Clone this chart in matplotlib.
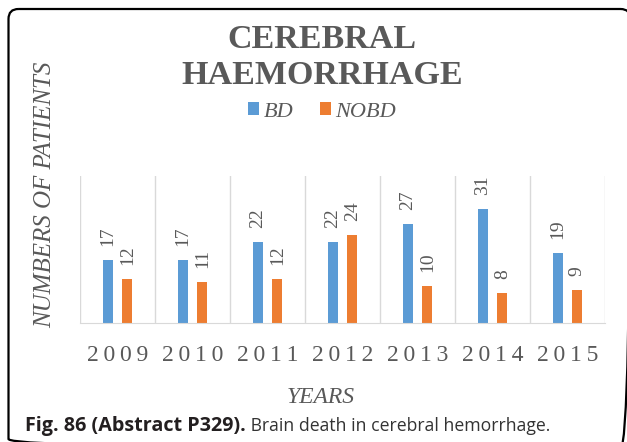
import numpy as np
import matplotlib.pyplot as plt
from matplotlib.patches import FancyBboxPatch

# Cerebral haemorrhage patients per year, brain death (BD) vs no brain death (NOBD)
years = ['2009', '2010', '2011', '2012', '2013', '2014', '2015']
bd = [17, 17, 22, 22, 27, 31, 19]
nobd = [12, 11, 12, 24, 10, 8, 9]

W, H = 627, 442
fig = plt.figure(figsize=(W / 100, H / 100), dpi=100)
fig.set_facecolor('white')

serif = 'Liberation Serif'
grey = '#595959'
blue = '#5B9BD5'
orange = '#ED7D31'

# pixel-unit layer for the frame, titles and caption
bg = fig.add_axes([0, 0, 1, 1])
bg.set_xlim(0, W)
bg.set_ylim(H, 0)
bg.axis('off')
bg.add_patch(FancyBboxPatch((8.5, 9), 622, 440,
                            boxstyle='round,pad=0,rounding_size=10',
                            fc='none', ec='black', lw=1.6))

# bar chart
ax = fig.add_axes([80 / W, 1 - 322.7 / H, 525 / W, 146.7 / H])
ax.set_facecolor('none')
x = np.arange(len(years))
w = 0.135
off = 0.13
b1 = ax.bar(x - off, bd, w, color=blue, label='BD', zorder=2)
b2 = ax.bar(x + off, nobd, w, color=orange, label='NOBD', zorder=2)
ax.set_xlim(-0.5, len(years) - 0.5)
ax.set_ylim(0, 40)

for edge in np.arange(-0.5, len(years), 1):
    ax.axvline(edge, color='#d9d9d9', lw=1, zorder=0)

for s in ['top', 'right', 'left']:
    ax.spines[s].set_visible(False)
ax.spines['bottom'].set_color('#d9d9d9')
ax.set_yticks([])
ax.set_xticks(x)
ax.set_xticklabels(['\u2009'.join(y) for y in years], family=serif,
                   fontsize=17, color=grey)
ax.tick_params(axis='x', length=0, pad=16)

for bars in (b1, b2):
    ax.bar_label(bars, rotation=90, padding=10, color=grey, fontsize=14,
                 family=serif)

# titles and axis names
bg.text(322, 48, 'CEREBRAL', ha='center', va='baseline', fontsize=24.5,
        weight='bold', family=serif, color=grey)
bg.text(322, 84, 'HAEMORRHAGE', ha='center', va='baseline', fontsize=24.5,
        weight='bold', family=serif, color=grey)
fig.legend(handles=[b1, b2], labels=['BD', 'NOBD'], loc='center',
           bbox_to_anchor=(322 / W, 1 - 112 / H), ncol=2, frameon=False,
           handlelength=0.5, handleheight=0.5, handletextpad=0.2,
           columnspacing=1.2, labelcolor=grey,
           prop=dict(family=serif, style='italic', size=16))
bg.text(45, 195, 'NUMBERS OF PATIENTS', rotation=90, ha='center',
        va='center', fontsize=18, style='italic', family=serif, color=grey)
bg.text(321, 403, 'YEARS', ha='center', va='baseline', fontsize=17,
        style='italic', family=serif, color=grey)

# caption
cap = bg.text(25, 431, 'Fig. 86 (Abstract P329).', va='baseline',
              fontsize=14.2, weight='bold', family='Open Sans', color='#231f20')
bg.annotate(' Brain death in cerebral hemorrhage.', xy=(1, 0), xycoords=cap,
            xytext=(0, 1), textcoords='offset points',
            va='bottom', ha='left', fontsize=12.7, family='Open Sans',
            color='#333333')

fig.savefig('out.png', dpi=100)
